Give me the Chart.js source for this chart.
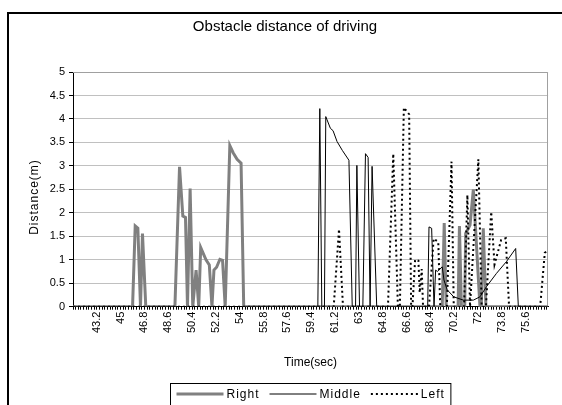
<!DOCTYPE html>
<html lang="en">
<head>
    <meta charset="UTF-8">
    <title>Obstacle distance of driving</title>
    <script src="https://cdn.jsdelivr.net/npm/chart.js"></script>
    <style>
        body {
            margin: 0;
            background: #fff;
            overflow: hidden;
        }
        .frame {
            position: absolute;
            left: 7px;
            top: 12px;
            width: 600px;
            height: 500px;
            border: 2px solid #000;
        }
        canvas {
            position: absolute;
            left: 0;
            top: 0;
        }
    </style>
</head>
<body>
    <div class="frame"></div>
    <canvas id="myChart" width="562" height="405"></canvas>

    <script>
        // time (sec) / distance (m) pairs
        const rightTime = [41.4, 45.9, 46.1, 46.3, 46.5, 46.65, 46.9, 49.1, 49.45, 49.7, 49.9, 50.05, 50.25, 50.45,
            50.7, 50.9, 51.05, 51.45, 51.7, 51.9, 52.05, 52.25, 52.5, 52.7, 52.9, 53.25, 53.5, 53.8, 54.1, 54.3,
            69.3, 69.45, 69.6, 70.5, 70.6, 70.75, 71.0, 71.07, 71.4, 71.65, 72.15, 72.25, 72.4, 72.6, 77.3];
        const rightDist = [0, 0, 1.72, 1.67, 0, 1.56, 0, 0, 2.98, 1.93, 1.9, 0, 2.52, 0,
            0.78, 0, 1.26, 1.0, 0.89, 0, 0.78, 0.84, 1.01, 0.99, 0, 3.43, 3.28, 3.14, 3.06, 0,
            0, 1.78, 0, 0, 1.72, 0, 0, 1.56, 1.74, 2.5, 0, 0, 1.67, 0, 0];

        const middleTime = [41.4, 59.9, 60.05, 60.2, 60.4, 60.5, 60.85, 61.05, 61.35, 61.75, 62.25, 62.5, 62.75, 62.85,
            63.05, 63.3, 63.5, 63.7, 63.85, 64.0, 64.35, 68.2, 68.3, 68.5, 68.68, 68.8, 68.93, 69.3, 69.43, 69.67,
            70.17, 70.9, 71.65, 72.15, 72.65, 73.4, 74.15, 74.85, 75.05, 77.3];
        const middleDist = [0, 0, 4.22, 0, 0, 4.05, 3.8, 3.75, 3.52, 3.33, 3.12, 0, 0, 3.01,
            0, 0, 3.26, 3.18, 0, 2.99, 0, 0, 1.7, 1.67, 0, 0.78, 0.75, 0.85, 0.57, 0.36,
            0.21, 0.14, 0.14, 0.21, 0.43, 0.71, 0.96, 1.24, 0, 0];

        const leftTime = [41.4, 61.1, 61.5, 61.8, 65.2, 65.6, 65.95, 66.1, 66.4, 66.8, 66.95, 67.05, 67.25, 67.5,
            67.6, 67.75, 67.85, 68.3, 68.65, 69.0, 69.15, 69.65, 70.0, 70.17, 70.95, 71.2, 71.4, 72.03, 72.28,
            72.6, 73.0, 73.25, 73.75, 74.1, 74.35, 76.7, 77.05, 77.3];
        const leftDist = [0, 0, 1.65, 0, 0, 3.26, 0, 0, 4.24, 4.1, 0, 0, 1.0, 0.98,
            0.3, 0.8, 0, 0, 1.45, 1.38, 0, 0, 3.09, 0, 0, 2.38, 0, 3.14, 0,
            0, 2.02, 0.9, 1.42, 1.46, 0, 0, 1.15, 1.2];

        const seriesNames = ['Right', 'Middle', 'Left'];
        const xTickLabels = [43.2, 45, 46.8, 48.6, 50.4, 52.2, 54, 55.8, 57.6, 59.4, 61.2, 63, 64.8, 66.6, 68.4, 70.2, 72, 73.8, 75.6];
        const yTicks = [0, 0.5, 1, 1.5, 2, 2.5, 3, 3.5, 4, 4.5, 5];

        const fontFamily = "'Liberation Sans', Arial, sans-serif";

        function toPoints(ts, ds) {
            return ts.map((t, i) => ({ x: t, y: ds[i] }));
        }

        // gray frame on top and right of the plot area
        const plotFrame = {
            id: 'plotFrame',
            beforeDatasetsDraw(chart) {
                const a = chart.chartArea;
                const ctx = chart.ctx;
                ctx.save();
                ctx.strokeStyle = '#a0a0a0';
                ctx.lineWidth = 1;
                ctx.beginPath();
                ctx.moveTo(a.left, Math.round(a.top) + 0.5);
                ctx.lineTo(Math.round(a.right) - 0.5, Math.round(a.top) + 0.5);
                ctx.lineTo(Math.round(a.right) - 0.5, a.bottom);
                ctx.stroke();
                ctx.restore();
            }
        };

        // y title drawn by hand so it can be letter-spaced like the original
        const yTitle = {
            id: 'yTitle',
            afterDraw(chart) {
                const ctx = chart.ctx;
                ctx.save();
                ctx.font = '12px ' + fontFamily;
                try { ctx.letterSpacing = '1px'; } catch (e) {}
                ctx.fillStyle = '#000';
                ctx.textAlign = 'center';
                ctx.textBaseline = 'middle';
                ctx.translate(35, 197);
                ctx.rotate(-Math.PI / 2);
                ctx.fillText('Distance(m)', 0, 0);
                ctx.restore();
            }
        };

        // boxed legend under the axis title
        const boxLegend = {
            id: 'boxLegend',
            afterDraw(chart) {
                const ctx = chart.ctx;
                const sets = chart.data.datasets;
                const lineLen = 47, gap = 3, itemGap = 10, margin = 6;
                ctx.save();
                ctx.font = '12px ' + fontFamily;
                try { ctx.letterSpacing = '1px'; } catch (e) {}
                const widths = sets.map(d => ctx.measureText(d.label).width);
                let total = margin * 2 + sets.length * (lineLen + gap) + widths.reduce((a, b) => a + b, 0) + itemGap * (sets.length - 1);
                const cx = (chart.chartArea.left + chart.chartArea.right) / 2;
                const left = Math.round(cx - total / 2) + 0.5;
                const top = 383.5;
                ctx.strokeStyle = '#000';
                ctx.lineWidth = 1;
                ctx.strokeRect(left, top, total, 40);
                let x = left + margin;
                const y = 394;
                sets.forEach((d, i) => {
                    ctx.save();
                    ctx.strokeStyle = d.borderColor;
                    ctx.lineWidth = d.borderWidth;
                    ctx.setLineDash(d.borderDash || []);
                    ctx.beginPath();
                    ctx.moveTo(x, y);
                    ctx.lineTo(x + lineLen, y);
                    ctx.stroke();
                    ctx.restore();
                    x += lineLen + gap;
                    ctx.fillStyle = '#000';
                    ctx.textBaseline = 'middle';
                    ctx.fillText(d.label, x, y + 1);
                    x += widths[i] + itemGap;
                });
                ctx.restore();
            }
        };

        const ctx = document.getElementById('myChart').getContext('2d');
        const myChart = new Chart(ctx, {
            type: 'line',
            data: {
                datasets: [{
                    label: seriesNames[0],
                    data: toPoints(rightTime, rightDist),
                    borderColor: '#808080',
                    borderWidth: 3,
                    order: 3
                }, {
                    label: seriesNames[1],
                    data: toPoints(middleTime, middleDist),
                    borderColor: '#000000',
                    borderWidth: 1,
                    order: 2
                }, {
                    label: seriesNames[2],
                    data: toPoints(leftTime, leftDist),
                    borderColor: '#000000',
                    borderWidth: 2,
                    borderDash: [2, 3],
                    order: 1
                }]
            },
            options: {
                responsive: false,
                animation: false,
                devicePixelRatio: 1,
                layout: {
                    padding: { left: 14, right: 6, top: 0, bottom: 0 }
                },
                elements: {
                    point: { radius: 0 },
                    line: { tension: 0, fill: false }
                },
                scales: {
                    x: {
                        type: 'linear',
                        min: 41.4,
                        max: 77.3,
                        afterFit: (s) => { s.height = 98.3; },
                        afterBuildTicks: (axis) => {
                            // one small tick mark per 0.2 s sample
                            const t = [];
                            for (let i = 0; i <= 179; i++) {
                                t.push({ value: Math.round((41.4 + i * 0.2) * 10) / 10 });
                            }
                            axis.ticks = t;
                        },
                        ticks: {
                            autoSkip: false,
                            minRotation: 90,
                            maxRotation: 90,
                            padding: 2,
                            color: '#000',
                            font: { size: 11, family: fontFamily },
                            callback: (v) => {
                                const hit = xTickLabels.find(l => Math.abs(l - v) < 1e-6);
                                return hit === undefined ? '' : String(hit);
                            }
                        },
                        grid: {
                            drawOnChartArea: false,
                            tickLength: 3,
                            tickColor: '#000'
                        },
                        border: { color: '#000' },
                        title: {
                            display: true,
                            text: 'Time(sec)',
                            color: '#000',
                            font: { size: 12, family: fontFamily },
                            padding: { top: 0, bottom: 35 }
                        }
                    },
                    y: {
                        min: 0,
                        max: 5,
                        afterFit: (s) => { s.width = 59; },
                        afterBuildTicks: (axis) => {
                            axis.ticks = yTicks.map(v => ({ value: v }));
                        },
                        ticks: {
                            padding: 4,
                            color: '#000',
                            font: { size: 11, family: fontFamily },
                            callback: (v) => String(v)
                        },
                        grid: {
                            color: '#c0c0c0',
                            tickLength: 4,
                            tickColor: '#000'
                        },
                        border: { color: '#000' }
                    }
                },
                plugins: {
                    legend: { display: false },
                    tooltip: { enabled: false },
                    title: {
                        display: true,
                        text: 'Obstacle distance of driving',
                        color: '#000',
                        font: { size: 15, weight: 'normal', family: fontFamily },
                        padding: { top: 18, bottom: 36 }
                    }
                }
            },
            plugins: [plotFrame, yTitle, boxLegend]
        });
    </script>
</body>
</html>
